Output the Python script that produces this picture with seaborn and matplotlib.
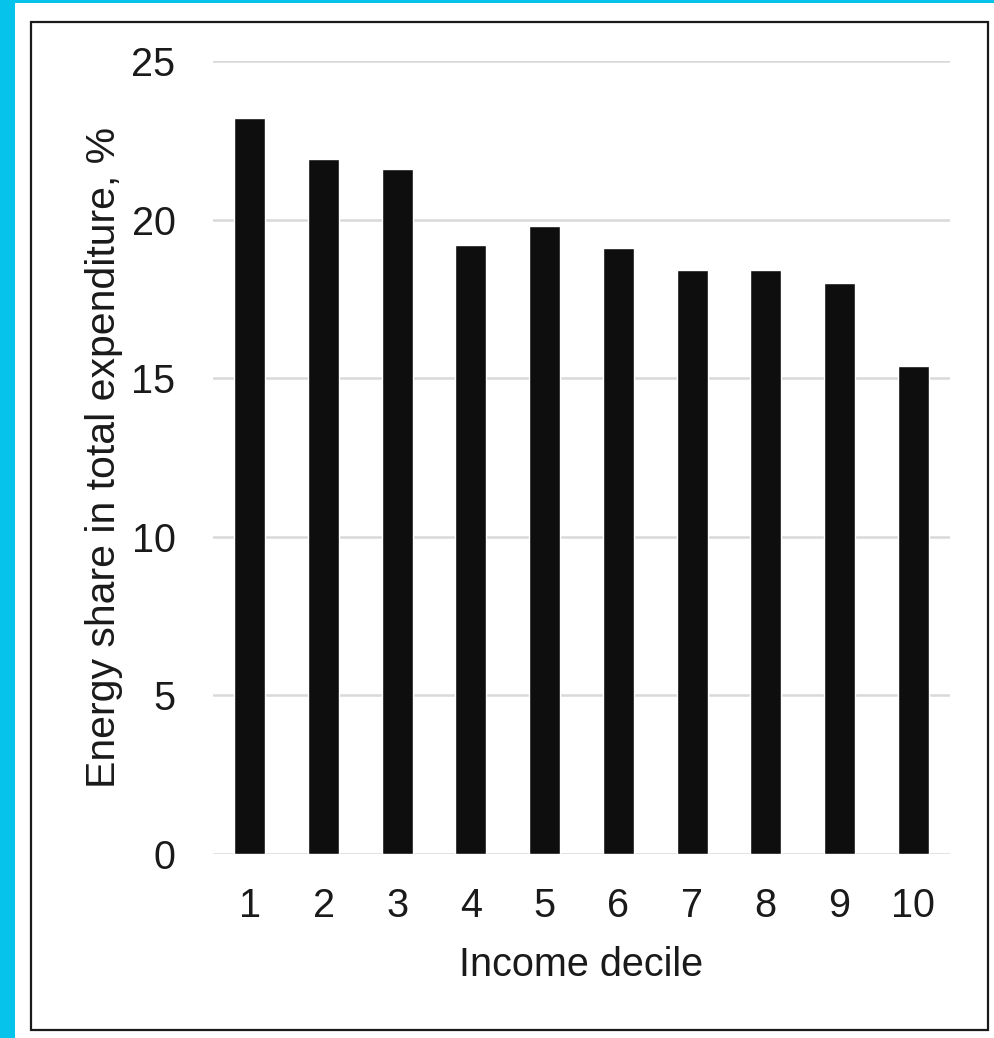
import matplotlib.pyplot as plt
import matplotlib.patches as patches
import seaborn as sns
import pandas as pd

# dados do grafico
deciles = ['1', '2', '3', '4', '5', '6', '7', '8', '9', '10']
energy_share = [23.2, 21.9, 21.6, 19.2, 19.8, 19.1, 18.4, 18.4, 18.0, 15.4]
y_ticks = [0, 5, 10, 15, 20, 25]

dados = pd.DataFrame({'decile': deciles, 'share': energy_share})

sns.set_theme(style='white')
plt.rcParams['font.family'] = ['Liberation Sans', 'DejaVu Sans']

W, H = 995, 1038
fig = plt.figure(figsize=(W / 100, H / 100), dpi=100, facecolor='#06c3ec')

# painel branco e moldura preta (atras dos eixos)
fig.patches.append(patches.Rectangle((15 / W, 0), 1 - 15 / W, 1 - 3 / H,
                                     transform=fig.transFigure, facecolor='white',
                                     edgecolor='none', zorder=-2))
fig.patches.append(patches.Rectangle((31 / W, 1 - 1030 / H), (988 - 31) / W, (1030 - 22) / H,
                                     transform=fig.transFigure, facecolor='none',
                                     edgecolor='#1a1a1a', linewidth=1.6, zorder=-1))

ax = fig.add_axes([213 / W, 1 - 854 / H, (950 - 213) / W, (854 - 61) / H])
ax.set_facecolor('none')

sns.barplot(data=dados, x='decile', y='share', color='#0e0e0e', width=0.42,
            saturation=1, ax=ax, zorder=3)

ax.set_ylim(0, 25)
ax.set_xlim(-0.5, 9.5)
ax.set_yticks(y_ticks)
ax.yaxis.grid(True, color='#d9d9d9', linewidth=1.8, zorder=0)
ax.set_axisbelow(True)
for s in ax.spines.values():
    s.set_visible(False)

ax.tick_params(axis='y', length=0, pad=27, labelsize=28.5, labelcolor='#1a1a1a')
ax.tick_params(axis='x', length=0, pad=24, labelsize=28.5, labelcolor='#1a1a1a')

ax.set_xlabel('Income decile', fontsize=28.5, color='#1a1a1a', labelpad=15)
ax.set_ylabel('Energy share in total expenditure, %', fontsize=29.5, color='#1a1a1a')
ax.yaxis.set_label_coords(-0.122, 0.5)

plt.savefig('out.png', dpi=100, facecolor=fig.get_facecolor())
